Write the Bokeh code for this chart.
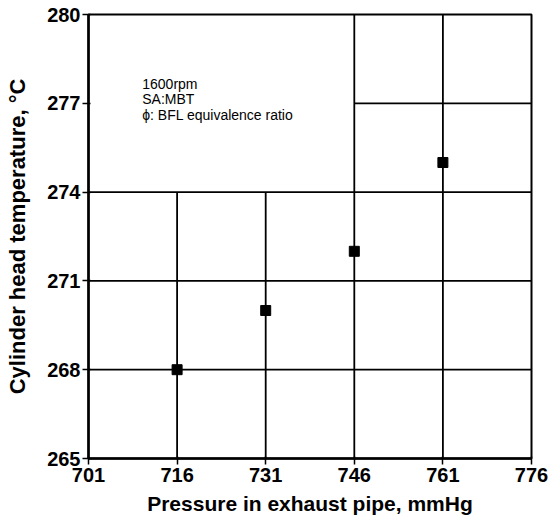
from bokeh.plotting import figure
from bokeh.models import FixedTicker, Range1d
from bokeh.core.properties import value
from bokeh.embed import file_html
from bokeh.resources import INLINE

# Data
pressure = [716, 731, 746, 761]          # mmHg
temperature = [268, 270, 272, 275]       # deg C

x_ticks = [701, 716, 731, 746, 761, 776]
y_ticks = [265, 268, 271, 274, 277, 280]

notes = ["1600rpm", "SA:MBT", "\u03d5: BFL equivalence ratio"]

# Partial grid layout as in the original figure
h_grid_y = [268, 271, 274, 277]
h_grid_x0 = [701, 701, 701, 746]
h_grid_x1 = [776, 776, 776, 776]
v_grid_x = [716, 731, 746, 761]
v_grid_y0 = [265, 265, 265, 265]
v_grid_y1 = [274, 274, 280, 280]

FONT = "Liberation Sans"

p = figure(width=557, height=521, output_backend="svg", toolbar_location=None,
           x_range=Range1d(x_ticks[0], x_ticks[-1]),
           y_range=Range1d(y_ticks[0], y_ticks[-1]),
           min_border_left=88, min_border_right=26, min_border_top=14, min_border_bottom=63)

p.xgrid.visible = False
p.ygrid.visible = False
p.outline_line_color = "black"
p.outline_line_width = 2
p.background_fill_color = "white"
p.border_fill_color = "white"

p.segment(x0=h_grid_x0, x1=h_grid_x1, y0=h_grid_y, y1=h_grid_y, line_color="black", line_width=1.8)
p.segment(x0=v_grid_x, x1=v_grid_x, y0=v_grid_y0, y1=v_grid_y1, line_color="black", line_width=1.8)

p.scatter(pressure, temperature, marker="square", size=10, fill_color="black", line_color="black")

note_y = [277.93 - 0.52 * i for i in range(len(notes))]
p.text(x=[710.1] * len(notes), y=note_y, text=notes, text_font=value(FONT),
       text_font_size="14px", text_baseline="top", text_align="left", text_color="black")

for ax in (p.xaxis[0], p.yaxis[0]):
    ax.axis_line_width = 2.5
    ax.axis_line_color = "black"
    ax.major_tick_line_width = 1.5
    ax.major_tick_line_color = "black"
    ax.minor_tick_line_color = None
    ax.major_tick_out = 6
    ax.major_tick_in = 2
    ax.major_label_text_font = FONT
    ax.major_label_text_font_size = "20px"
    ax.major_label_text_font_style = "bold"
    ax.major_label_text_color = "black"
    ax.axis_label_text_font = FONT
    ax.axis_label_text_font_style = "bold"
    ax.axis_label_text_color = "black"

p.xaxis.axis_label_text_font_size = "21px"
p.yaxis.axis_label_text_font_size = "22px"
p.xaxis.ticker = FixedTicker(ticks=x_ticks)
p.yaxis.ticker = FixedTicker(ticks=y_ticks)
p.xaxis.major_label_standoff = 3
p.yaxis.major_label_standoff = 2
p.xaxis.axis_label = "Pressure in exhaust pipe, mmHg"
p.yaxis.axis_label = "Cylinder head temperature, \u00b0C"
p.xaxis.axis_label_standoff = 7
p.yaxis.axis_label_standoff = 14

open("out.html", "w").write(file_html(p, INLINE))
